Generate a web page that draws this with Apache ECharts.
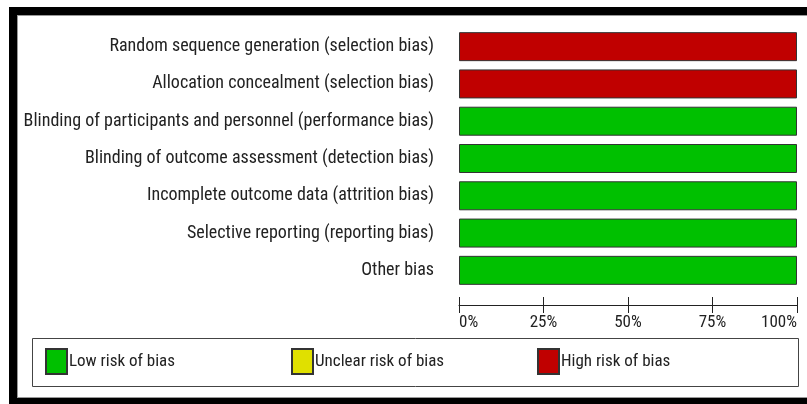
<!DOCTYPE html>
<html>
<head>
<meta charset="utf-8">
<script src="https://cdn.jsdelivr.net/npm/echarts@6/dist/echarts.min.js"></script>
<style>
    html, body { margin: 0; padding: 0; background: #fff; }
    #chart { width: 807px; height: 404px; }
</style>
</head>
<body>
<div id="chart"></div>
<script>
// domains, top to bottom
var domains = [
    'Random sequence generation (selection bias)',
    'Allocation concealment (selection bias)',
    'Blinding of participants and personnel (performance bias)',
    'Blinding of outcome assessment (detection bias)',
    'Incomplete outcome data (attrition bias)',
    'Selective reporting (reporting bias)',
    'Other bias'
];
// percent of studies per judgement
var lowRisk = [0, 0, 100, 100, 100, 100, 100];
var unclearRisk = [0, 0, 0, 0, 0, 0, 0];
var highRisk = [100, 100, 0, 0, 0, 0, 0];
var tickValues = [0, 25, 50, 75, 100];

var FONT = "'Roboto Condensed', 'DejaVu Sans Condensed', sans-serif";
var TXT = '#222';

function barData(arr) {
    // empty segments are left out so no border line is drawn for them
    return arr.map(function (v) { return v === 0 ? '-' : v; });
}

function makeSeries(name, color, data) {
    return {
        name: name,
        type: 'bar',
        stack: 'rob',
        barWidth: 29,
        data: barData(data),
        itemStyle: { color: color, borderColor: '#333', borderWidth: 1 },
        emphasis: { disabled: true }
    };
}

function makeLegend(name, left) {
    return {
        data: [name],
        left: left,
        top: 348,
        padding: 0,
        icon: 'rect',
        itemWidth: 21,
        itemHeight: 25,
        selectedMode: false,
        textStyle: { fontFamily: FONT, fontSize: 17, color: TXT, padding: [0, 0, 0, -3] }
    };
}

var chart = echarts.init(document.getElementById('chart'));
var option = {
    animation: false,
    backgroundColor: '#fff',
    graphic: [
        // black frame (open on the right)
        { type: 'rect', shape: { x: 9, y: 7, width: 820, height: 400 }, style: { fill: '#000' }, z: -10 },
        { type: 'rect', shape: { x: 17, y: 15, width: 820, height: 383 }, style: { fill: '#999' }, z: -9 },
        { type: 'rect', shape: { x: 18, y: 16, width: 820, height: 381 }, style: { fill: '#fff' }, z: -8 },
        // legend box
        { type: 'rect', shape: { x: 32.5, y: 338.5, width: 766, height: 48 }, style: { fill: 'none', stroke: '#444', lineWidth: 1 }, z: -5 }
    ],
    grid: { left: 459, right: 10, top: 28, height: 261, containLabel: false, outerBoundsMode: 'none' },
    xAxis: [{
        type: 'value',
        min: 0,
        max: 100,
        interval: 25,
        offset: 16,
        axisLine: { show: true, lineStyle: { color: '#222', width: 1 } },
        axisTick: { show: true, length: 8, lineStyle: { color: '#222' } },
        axisLabel: {
            margin: 9,
            fontFamily: FONT,
            fontSize: 17,
            color: TXT,
            alignMinLabel: 'left',
            alignMaxLabel: 'right',
            formatter: function (v) { return tickValues.indexOf(v) >= 0 ? v + '%' : ''; }
        },
        splitLine: { show: false }
    }, {
        type: 'value',
        position: 'bottom',
        min: 0,
        max: 100,
        interval: 25,
        offset: 16,
        axisLine: { show: false },
        axisTick: { show: true, inside: true, length: 8, lineStyle: { color: '#222' } },
        axisLabel: { show: false },
        splitLine: { show: false }
    }],
    yAxis: {
        type: 'category',
        inverse: true,
        data: domains,
        axisLine: { show: false },
        axisTick: { show: false },
        axisLabel: { margin: 25, fontFamily: FONT, fontSize: 18, color: TXT }
    },
    legend: [
        makeLegend('Low risk of bias', 45),
        makeLegend('Unclear risk of bias', 291),
        makeLegend('High risk of bias', 537)
    ],
    series: [
        makeSeries('Low risk of bias', '#00c000', lowRisk),
        makeSeries('Unclear risk of bias', '#e0e000', unclearRisk),
        makeSeries('High risk of bias', '#c00000', highRisk)
    ]
};
chart.setOption(option);
</script>
</body>
</html>
